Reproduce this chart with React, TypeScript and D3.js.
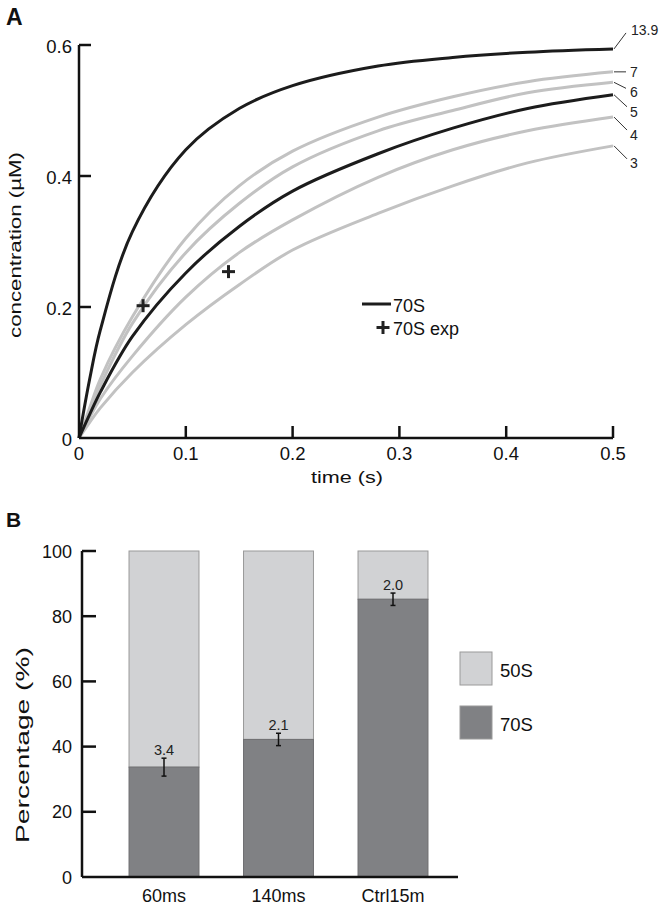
import React from "react";
import * as d3 from "d3";

// ---------- Panel A data ----------
const times = [0, 0.01, 0.02, 0.05, 0.1, 0.15, 0.2, 0.28, 0.35, 0.42, 0.5];
const curveLabels = ["3", "4", "5", "6", "7", "13.9"];
const curve3 = [0, 0.024, 0.046, 0.1, 0.173, 0.234, 0.287, 0.343, 0.385, 0.42, 0.446];
const curve4 = [0, 0.031, 0.06, 0.125, 0.215, 0.283, 0.333, 0.398, 0.44, 0.469, 0.49];
const curve5 = [0, 0.036, 0.07, 0.155, 0.252, 0.323, 0.377, 0.434, 0.473, 0.503, 0.524];
const curve6 = [0, 0.041, 0.08, 0.175, 0.283, 0.358, 0.414, 0.469, 0.5, 0.527, 0.543];
const curve7 = [0, 0.046, 0.09, 0.185, 0.305, 0.385, 0.438, 0.49, 0.521, 0.544, 0.559];
const curve139 = [0, 0.09, 0.165, 0.315, 0.44, 0.503, 0.538, 0.568, 0.581, 0.589, 0.594];
const curveValues = [curve3, curve4, curve5, curve6, curve7, curve139];
const curveIsBlack = [false, false, true, false, false, true];
const expTimes = [0.06, 0.14];
const expValues = [0.202, 0.254];
const xTicksA = [0, 0.1, 0.2, 0.3, 0.4, 0.5];
const yTicksA = [0, 0.2, 0.4, 0.6];

// ---------- Panel B data ----------
const categories = ["60ms", "140ms", "Ctrl15m"];
const pct70S = [33.7, 42.2, 85.2];
const errHalf = [2.75, 1.9, 1.9];
const errLabels = ["3.4", "2.1", "2.0"];
const yTicksB = [0, 20, 40, 60, 80, 100];
const legendB = ["50S", "70S"];

const FONT = "'Liberation Sans', Arial, Helvetica, sans-serif";
const BLACK = "#1c1c1c";
const GRAY = "#c2c2c2";
const LIGHT = "#d1d2d4";
const DARK = "#808184";

// layout of the right-side labels in panel A (offsets from curve end)
const labelLayout: Record<string, { lx: number; ly: number; tx: number; ty: number }> = {
  "13.9": { lx: 13, ly: -16, tx: 18, ty: -19 },
  "7": { lx: 13, ly: 0, tx: 17, ty: 0 },
  "6": { lx: 13, ly: 6, tx: 17, ty: 10 },
  "5": { lx: 14, ly: 12, tx: 17, ty: 17 },
  "4": { lx: 14, ly: 13, tx: 17, ty: 18 },
  "3": { lx: 14, ly: 13, tx: 17, ty: 17 },
};

export default function App() {
  const xA = d3.scaleLinear().domain([0, 0.5]).range([79, 613]);
  const yA = d3.scaleLinear().domain([0, 0.6]).range([438, 45]);
  const line = d3
    .line<number>()
    .x((_, i) => xA(times[i]))
    .y((d) => yA(d))
    .curve(d3.curveCatmullRom.alpha(0.5));

  const xB = d3
    .scaleBand<string>()
    .domain(categories)
    .range([106.75, 450.25])
    .paddingInner(0.389)
    .paddingOuter(0.1945);
  const yB = d3.scaleLinear().domain([0, 100]).range([877, 551]);

  const idx = curveValues.map((_, i) => i);
  const sorted = idx.sort((a, b) => Number(curveIsBlack[a]) - Number(curveIsBlack[b]));

  const plus = (cx: number, cy: number, key: string) => (
    <g key={key} stroke="#222" strokeWidth={3}>
      <line x1={cx - 6.5} x2={cx + 6.5} y1={cy} y2={cy} />
      <line x1={cx} x2={cx} y1={cy - 6.5} y2={cy + 6.5} />
    </g>
  );

  return (
    <svg
      width={665}
      height={909}
      style={{ position: "absolute", left: 0, top: 0, background: "#fff" }}
      fontFamily={FONT}
    >
      <rect width={665} height={909} fill="#fff" />
      {/* ===== Panel A ===== */}
      <text x={6} y={25} fontSize={23} fontWeight="bold" fill="#111">
        A
      </text>
      {sorted.map((i) => (
        <path
          key={"c" + i}
          d={line(curveValues[i]) || ""}
          fill="none"
          stroke={curveIsBlack[i] ? BLACK : GRAY}
          strokeWidth={3}
        />
      ))}
      <g stroke="#111" strokeWidth={2.5} fill="none">
        <line x1={xA(0)} x2={xA(0)} y1={yA(0)} y2={yA(0.6)} />
        <line x1={xA(0)} x2={xA(0.5)} y1={yA(0)} y2={yA(0)} />
        {xTicksA
          .filter((t) => t > 0)
          .map((t) => (
            <line key={"xt" + t} x1={xA(t)} x2={xA(t)} y1={yA(0)} y2={yA(0) - 12} />
          ))}
        {yTicksA
          .filter((t) => t > 0)
          .map((t) => (
            <line key={"yt" + t} x1={xA(0)} x2={xA(0) + 12} y1={yA(t)} y2={yA(t)} />
          ))}
      </g>
      {xTicksA.map((t) => (
        <text key={"xl" + t} x={xA(t)} y={459.5} fontSize={18.5} textAnchor="middle" fill="#111">
          {t === 0 ? "0" : d3.format(".1f")(t)}
        </text>
      ))}
      {yTicksA.map((t) => (
        <text key={"yl" + t} x={72} y={yA(t) + 7.5} fontSize={18.5} textAnchor="end" fill="#111">
          {t === 0 ? "0" : d3.format(".1f")(t)}
        </text>
      ))}
      <text x={347} y={483} fontSize={17} textAnchor="middle" fill="#111" textLength={72} lengthAdjust="spacingAndGlyphs">
        time (s)
      </text>
      <text
        transform="translate(21,245) rotate(-90)"
        fontSize={17}
        textAnchor="middle"
        fill="#111"
        textLength={186}
        lengthAdjust="spacingAndGlyphs"
      >
        concentration (µM)
      </text>
      {expTimes.map((t, i) => plus(xA(t), yA(expValues[i]), "p" + i))}
      {/* legend A */}
      <line x1={362} x2={391} y1={304} y2={304} stroke={BLACK} strokeWidth={3} />
      <text x={393} y={311.5} fontSize={18} fill="#111">
        70S
      </text>
      {plus(383, 327.5, "lp")}
      <text x={393} y={334.5} fontSize={18} fill="#111">
        70S exp
      </text>
      {curveLabels.map((lab, i) => {
        const vals = curveValues[i];
        const ex = xA(times[times.length - 1]);
        const ey = yA(vals[vals.length - 1]);
        const L = labelLayout[lab];
        return (
          <g key={"rl" + lab}>
            <line x1={ex + 1} y1={ey} x2={ex + L.lx} y2={ey + L.ly} stroke="#333" strokeWidth={1} />
            <text x={ex + L.tx} y={ey + L.ty + 5} fontSize={14} fill="#222">
              {lab}
            </text>
          </g>
        );
      })}

      {/* ===== Panel B ===== */}
      <text x={6} y={527} fontSize={21} fontWeight="bold" fill="#111">
        B
      </text>
      {categories.map((c, i) => {
        const x0 = xB(c)!;
        const w = xB.bandwidth();
        const cx = x0 + w / 2;
        const top = yB(pct70S[i] + errHalf[i]);
        const bot = yB(pct70S[i] - errHalf[i]);
        return (
          <g key={"bar" + c}>
            <rect x={x0} y={yB(100)} width={w} height={yB(pct70S[i]) - yB(100)} fill={LIGHT} stroke="#9a9a9a" strokeWidth={1} />
            <rect x={x0} y={yB(pct70S[i])} width={w} height={yB(0) - yB(pct70S[i])} fill={DARK} stroke="#6f6f72" strokeWidth={1} />
            <g stroke="#111" strokeWidth={1.5}>
              <line x1={cx} x2={cx} y1={top} y2={bot} />
              <line x1={cx - 2.5} x2={cx + 2.5} y1={top} y2={top} />
              <line x1={cx - 2.5} x2={cx + 2.5} y1={bot} y2={bot} />
            </g>
            <text x={cx} y={top - 3.5} fontSize={14.5} textAnchor="middle" fill="#222">
              {errLabels[i]}
            </text>
            <text x={cx} y={902} fontSize={18} textAnchor="middle" fill="#111">
              {c}
            </text>
          </g>
        );
      })}
      <g stroke="#111" strokeWidth={2.5}>
        <line x1={82} x2={82} y1={yB(0)} y2={yB(100)} />
        <line x1={82} x2={458} y1={yB(0)} y2={yB(0)} />
        {yTicksB
          .filter((t) => t > 0)
          .map((t) => (
            <line key={"ybt" + t} x1={82} x2={96} y1={yB(t)} y2={yB(t)} />
          ))}
      </g>
      {yTicksB.map((t) => (
        <text key={"ybl" + t} x={72} y={yB(t) + 6.5} fontSize={18} textAnchor="end" fill="#111">
          {t}
        </text>
      ))}
      <text
        transform="translate(29,745) rotate(-90)"
        fontSize={18.5}
        textAnchor="middle"
        fill="#111"
        textLength={196}
        lengthAdjust="spacingAndGlyphs"
      >
        Percentage (%)
      </text>
      {legendB.map((lab, i) => (
        <g key={"lb" + lab}>
          <rect x={460} y={652 + i * 54} width={32} height={33} fill={i === 0 ? LIGHT : DARK} stroke="#9a9a9a" strokeWidth={1} />
          <text x={500} y={676.5 + i * 54} fontSize={18.5} fill="#111">
            {lab}
          </text>
        </g>
      ))}
    </svg>
  );
}
